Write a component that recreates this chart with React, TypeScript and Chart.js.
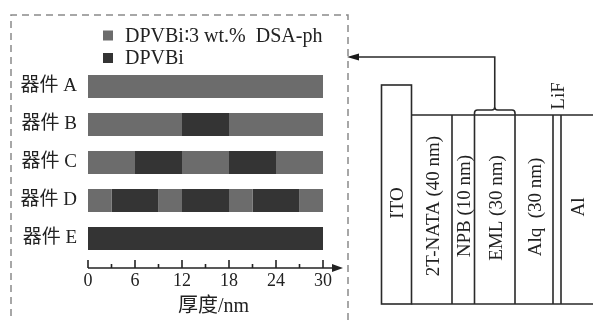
import React, { useEffect, useRef } from 'react';
import { Chart, registerables } from 'chart.js';

Chart.register(...registerables);

// ---------- data ----------
const devices = ['器件 A', '器件 B', '器件 C', '器件 D', '器件 E'];
// sub-layer thicknesses (nm), alternating doped / undoped, starting with doped
const deviceA = [30];
const deviceB = [12, 6, 12];
const deviceC = [6, 6, 6, 6, 6];
const deviceD = [3, 6, 3, 6, 3, 6, 3];
const deviceE = [0, 30];
const seriesNames = ['DPVBi∶3 wt.%  DSA-ph', 'DPVBi'];
const xTickValues = [0, 6, 12, 18, 24, 30];
const xTitle = '厚度/nm';
const stackLayers = ['ITO', '2T-NATA (40 nm)', 'NPB (10 nm)', 'EML (30 nm)', 'Alq  (30 nm)', 'LiF', 'Al'];

// ---------- style ----------
const FONT = '"Liberation Serif", "DejaVu Sans", "Noto Sans CJK SC", serif';
const GRAY = '#6c6c6c';
const DARK = '#343434';
const INK = '#222222';

const allDevices = [deviceA, deviceB, deviceC, deviceD, deviceE];
const maxSegs = Math.max(...allDevices.map((d) => d.length));

const datasets = Array.from({ length: maxSegs }, (_, i) => ({
  label: i < 2 ? seriesNames[i] : '',
  data: allDevices.map((d) => d[i] ?? 0),
  backgroundColor: i % 2 === 0 ? GRAY : DARK,
  borderWidth: 0,
  barPercentage: 0.6,
  categoryPercentage: 1,
}));

// schematic layout (pixels)
const SCH = {
  bounds: [381.5, 411.5, 452, 474.5, 515, 553, 561, 610],
  base: 304,
  top: 115,
  itoTop: 85,
  labelY: [203, 206, 206, 208, 207, 96, 207],
};

const decor = {
  id: 'decor',
  afterDraw(chart: any) {
    const ctx = chart.ctx;
    const xs = chart.scales.x;
    const area = chart.chartArea;
    ctx.save();
    // dashed frame
    ctx.strokeStyle = '#8a8a8a';
    ctx.lineWidth = 1.5;
    ctx.setLineDash([7, 5]);
    ctx.beginPath();
    ctx.moveTo(11, 340);
    ctx.lineTo(11, 15);
    ctx.lineTo(348, 15);
    ctx.lineTo(348, 340);
    ctx.stroke();
    ctx.setLineDash([]);

    // x axis with arrow and inward ticks
    const axisY = area.bottom + 10.5;
    const x0 = xs.getPixelForValue(0);
    const x30 = xs.getPixelForValue(30);
    ctx.strokeStyle = INK;
    ctx.fillStyle = INK;
    ctx.lineWidth = 1.6;
    ctx.beginPath();
    ctx.moveTo(x0, axisY);
    ctx.lineTo(x30 + 12, axisY);
    ctx.stroke();
    ctx.beginPath();
    ctx.moveTo(x30 + 20, axisY);
    ctx.lineTo(x30 + 9, axisY - 4);
    ctx.lineTo(x30 + 9, axisY + 4);
    ctx.closePath();
    ctx.fill();
    for (let v = 0; v <= 30; v += 3) {
      const px = xs.getPixelForValue(v);
      const len = v % 6 === 0 ? 8 : 4;
      ctx.beginPath();
      ctx.moveTo(px, axisY);
      ctx.lineTo(px, axisY - len);
      ctx.stroke();
    }

    // x axis title
    ctx.fillStyle = INK;
    ctx.font = `20px ${FONT}`;
    ctx.textAlign = 'center';
    ctx.textBaseline = 'middle';
    ctx.fillText(xTitle, (area.left + area.right) / 2 + 8, 307);

    // legend
    ctx.font = `20px ${FONT}`;
    ctx.textBaseline = 'middle';
    ctx.textAlign = 'left';
    [0, 1].forEach((i) => {
      const ds = chart.data.datasets[i];
      const cy = 35.5 + i * 22.5;
      ctx.fillStyle = ds.backgroundColor;
      ctx.fillRect(103, cy - 5, 10, 10);
      ctx.fillStyle = INK;
      ctx.fillText(ds.label, 125, cy + 1);
    });

    // device structure schematic
    const b = SCH.bounds;
    ctx.strokeStyle = '#2a2a2a';
    ctx.lineWidth = 1.6;
    ctx.strokeRect(b[0], SCH.itoTop, b[1] - b[0], SCH.base - SCH.itoTop);
    ctx.beginPath();
    ctx.moveTo(b[1], SCH.top);
    ctx.lineTo(b[b.length - 1], SCH.top);
    ctx.moveTo(b[1], SCH.base);
    ctx.lineTo(b[b.length - 1], SCH.base);
    for (let i = 2; i < b.length - 1; i++) {
      ctx.moveTo(b[i], SCH.top);
      ctx.lineTo(b[i], SCH.base);
    }
    ctx.stroke();

    // brace over EML + arrow to frame
    const bl = b[3], br = b[4], bm = (bl + br) / 2;
    ctx.beginPath();
    ctx.moveTo(bl, SCH.top);
    ctx.lineTo(bl, SCH.top - 2);
    ctx.quadraticCurveTo(bl, SCH.top - 5, bl + 3, SCH.top - 5);
    ctx.lineTo(bm - 3, SCH.top - 5);
    ctx.quadraticCurveTo(bm, SCH.top - 5, bm, SCH.top - 8);
    ctx.quadraticCurveTo(bm, SCH.top - 5, bm + 3, SCH.top - 5);
    ctx.lineTo(br - 3, SCH.top - 5);
    ctx.quadraticCurveTo(br, SCH.top - 5, br, SCH.top - 2);
    ctx.lineTo(br, SCH.top);
    ctx.moveTo(bm, SCH.top - 8);
    ctx.lineTo(bm, 57);
    ctx.lineTo(357, 57);
    ctx.stroke();
    ctx.fillStyle = '#1a1a1a';
    ctx.beginPath();
    ctx.moveTo(347, 57);
    ctx.lineTo(359, 53.5);
    ctx.lineTo(359, 60.5);
    ctx.closePath();
    ctx.fill();

    // rotated layer labels
    ctx.fillStyle = INK;
    ctx.font = `19px ${FONT}`;
    ctx.textAlign = 'center';
    ctx.textBaseline = 'middle';
    stackLayers.forEach((name, i) => {
      let cx = (b[i] + b[i + 1]) / 2 + 1;
      if (name === 'Al') cx = 578;
      ctx.save();
      ctx.translate(cx, SCH.labelY[i]);
      ctx.rotate(-Math.PI / 2);
      ctx.fillText(name, 0, 1);
      ctx.restore();
    });
    ctx.restore();
  },
};

export default function App() {
  const ref = useRef<HTMLCanvasElement>(null);
  useEffect(() => {
    if (!ref.current) return;
    const chart = new Chart(ref.current, {
      type: 'bar',
      data: { labels: devices, datasets: datasets as any },
      options: {
        indexAxis: 'y',
        responsive: false,
        animation: false,
        devicePixelRatio: 1,
        layout: { padding: { left: 0, right: 270, top: 67.5, bottom: 2 } },
        plugins: { legend: { display: false }, tooltip: { enabled: false } },
        scales: {
          x: {
            stacked: true,
            min: 0,
            max: 30,
            afterBuildTicks: (s: any) => {
              s.ticks = xTickValues.map((v) => ({ value: v }));
            },
            afterFit: (s: any) => {
              s.height = 60.5;
            },
            grid: { display: false, drawTicks: false },
            border: { display: false },
            ticks: { padding: 13, maxRotation: 0, color: INK, font: { size: 18, family: FONT } },
            title: { display: false },
          },
          y: {
            stacked: true,
            grid: { display: false, drawTicks: false },
            border: { display: false },
            ticks: { padding: 11, color: INK, font: { size: 19, family: FONT } },
            afterFit: (s: any) => {
              s.width = 88;
            },
          },
        },
      },
      plugins: [decor],
    });
    return () => chart.destroy();
  }, []);
  return (
    <div style={{ position: 'fixed', left: 0, top: 0, width: 593, height: 320, background: '#fff' }}>
      <canvas ref={ref} width={593} height={320} style={{ display: 'block', width: 593, height: 320 }} />
    </div>
  );
}
